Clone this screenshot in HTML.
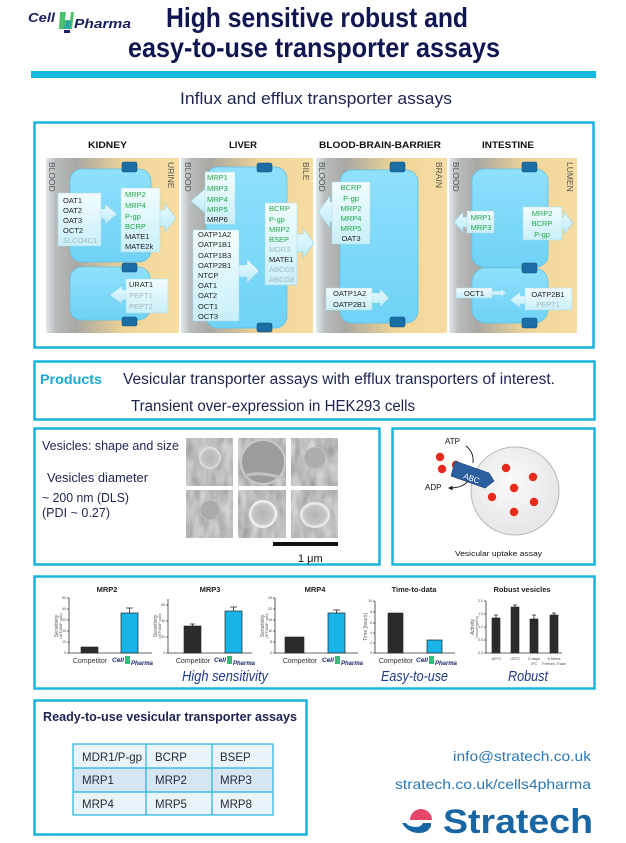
<!DOCTYPE html>
<html><head><meta charset="utf-8"><style>
html,body{margin:0;padding:0;background:#fff;width:626px;height:843px;overflow:hidden}
svg{display:block}
text{font-family:"Liberation Sans",Arial,sans-serif}
</style></head><body>
<svg width="626" height="843" viewBox="0 0 626 843" xmlns="http://www.w3.org/2000/svg">
<defs>
<linearGradient id="pg" x1="0" x2="1" y1="0" y2="0">
 <stop offset="0" stop-color="#e3e9ec"/>
 <stop offset="0.07" stop-color="#b9bcbd"/>
 <stop offset="0.22" stop-color="#a9a8a4"/>
 <stop offset="0.42" stop-color="#cdbf9c"/>
 <stop offset="0.6" stop-color="#efd597"/>
 <stop offset="1" stop-color="#f7dda3"/>
</linearGradient>
<linearGradient id="cg" x1="0" x2="0" y1="0" y2="1">
 <stop offset="0" stop-color="#8fe0fb"/>
 <stop offset="1" stop-color="#6fd2f6"/>
</linearGradient>
<linearGradient id="bg" x1="0" x2="0" y1="0" y2="1">
 <stop offset="0" stop-color="#f2fdff"/>
 <stop offset="1" stop-color="#c9eff9"/>
</linearGradient>
<linearGradient id="ag" x1="0" x2="0" y1="0" y2="1">
 <stop offset="0" stop-color="#eafbff"/>
 <stop offset="1" stop-color="#bdebf8"/>
</linearGradient>
<radialGradient id="vg" cx="0.45" cy="0.4" r="0.6">
 <stop offset="0" stop-color="#fafafa"/>
 <stop offset="1" stop-color="#e6e6e6"/>
</radialGradient>
<radialGradient id="sv" cx="0.5" cy="0.5" r="0.5">
 <stop offset="0" stop-color="#b4b4b4"/>
 <stop offset="0.75" stop-color="#c4c4c4"/>
 <stop offset="1" stop-color="#e8e8e8"/>
</radialGradient>
<filter id="sem" x="0" y="0" width="1" height="1">
 <feTurbulence type="fractalNoise" baseFrequency="0.12 0.05" numOctaves="2" seed="4"/>
 <feColorMatrix type="matrix" values="0.5 0 0 0 0.26  0.5 0 0 0 0.26  0.5 0 0 0 0.26  0 0 0 0 1"/>
</filter>
<marker id="ah" markerWidth="5" markerHeight="5" refX="4" refY="2.5" orient="auto">
 <path d="M0,0 L5,2.5 L0,5 Z" fill="#111"/>
</marker>
</defs>

<!-- ===== HEADER ===== -->
<text x="28" y="22" font-size="13" font-weight="bold" font-style="italic" fill="#1a2060" textLength="27" lengthAdjust="spacingAndGlyphs">Cell</text>
<polygon points="60,12 66,12 65,20 70,20 71,12 74,12 72,29 59,29" fill="#4cc06a"/>
<polygon points="66,21 71,21 70,29 64,29" fill="#2aa6a8"/>
<rect x="64" y="30" width="6" height="3" fill="#1a2060"/>
<text x="74" y="28" font-size="13" font-weight="bold" font-style="italic" fill="#1a2060" textLength="57" lengthAdjust="spacingAndGlyphs">Pharma</text>

<text x="166" y="27" font-size="28" font-weight="bold" fill="#0f1650" textLength="302" lengthAdjust="spacingAndGlyphs">High sensitive robust and</text>
<text x="128" y="57" font-size="28" font-weight="bold" fill="#0f1650" textLength="372" lengthAdjust="spacingAndGlyphs">easy-to-use transporter assays</text>
<rect x="31" y="71" width="565" height="7" fill="#13b8e0"/>
<text x="180" y="104" font-size="17" fill="#1b2550" textLength="272" lengthAdjust="spacingAndGlyphs">Influx and efflux transporter assays</text>

<!-- ===== ORGAN PANEL ===== -->
<rect x="34.5" y="122.5" width="559" height="225" fill="#fff" stroke="#17b5df" stroke-width="2.5"/>
<g font-weight="bold" font-size="9.5" fill="#111">
<text x="88" y="148" textLength="39" lengthAdjust="spacingAndGlyphs">KIDNEY</text>
<text x="229" y="148" textLength="28" lengthAdjust="spacingAndGlyphs">LIVER</text>
<text x="319" y="148" textLength="122" lengthAdjust="spacingAndGlyphs">BLOOD-BRAIN-BARRIER</text>
<text x="482" y="148" textLength="52" lengthAdjust="spacingAndGlyphs">INTESTINE</text>
</g>
<rect x="46" y="158" width="133" height="175" fill="url(#pg)"/>
<rect x="181" y="158" width="132" height="175" fill="url(#pg)"/>
<rect x="316" y="158" width="131" height="175" fill="url(#pg)"/>
<rect x="449" y="158" width="128" height="175" fill="url(#pg)"/>

<!-- vertical labels -->
<g font-size="8.5" fill="#555">
<text transform="translate(49,162) rotate(90)">BLOOD</text>
<text transform="translate(168,162) rotate(90)">URINE</text>
<text transform="translate(185,162) rotate(90)">BLOOD</text>
<text transform="translate(303,162) rotate(90)">BILE</text>
<text transform="translate(319,162) rotate(90)">BLOOD</text>
<text transform="translate(436,162) rotate(90)">BRAIN</text>
<text transform="translate(453,162) rotate(90)">BLOOD</text>
<text transform="translate(567,162) rotate(90)">LUMEN</text>
</g>

<!-- cells -->
<g fill="url(#cg)" stroke="#5cc3ec" stroke-width="0.8">
<rect x="70" y="169" width="81" height="93" rx="12"/>
<rect x="70" y="267" width="80" height="53" rx="12"/>
<rect x="206" y="167" width="81" height="161" rx="12"/>
<rect x="340" y="170" width="78" height="153" rx="12"/>
<rect x="472" y="169" width="76" height="98" rx="12"/>
<rect x="472" y="268" width="76" height="55" rx="14"/>
</g>
<!-- junctions -->
<g fill="#1b6ea5" stroke="#0f4f7d" stroke-width="0.6">
<rect x="122" y="162" width="15" height="10" rx="2"/>
<rect x="122" y="263" width="15" height="9" rx="2"/>
<rect x="122" y="317" width="15" height="9" rx="2"/>
<rect x="257" y="163" width="15" height="9" rx="2"/>
<rect x="257" y="323" width="15" height="9" rx="2"/>
<rect x="390" y="162" width="15" height="10" rx="2"/>
<rect x="390" y="317" width="15" height="10" rx="2"/>
<rect x="522" y="162" width="15" height="10" rx="2"/>
<rect x="522" y="263" width="15" height="10" rx="2"/>
<rect x="522" y="318" width="15" height="10" rx="2"/>
</g>

<!-- arrows -->
<g fill="url(#ag)" stroke="#96d6ea" stroke-width="0.6">
<polygon points="95,209 105,209 105,204 117,214 105,224 105,219 95,219"/>
<polygon points="155,210 165,210 165,204 176,218 165,232 165,226 155,226"/>
<polygon points="130,290 122,290 122,286 110,295 122,304 122,300 130,300"/>
<polygon points="210,194 205,194 205,189 191,201 205,213 205,208 210,208"/>
<polygon points="235,265 247,265 247,259 259,271 247,283 247,277 235,277"/>
<polygon points="293,234 303,234 303,228 314,243 303,258 303,252 293,252"/>
<polygon points="336,202 330,202 330,196 318,212 330,228 330,222 336,222"/>
<polygon points="368,293 380,293 380,289 389,298 380,307 380,303 368,303"/>
<polygon points="470,217 463,217 463,212 454,222 463,232 463,227 470,227"/>
<polygon points="558,217 564,217 564,212 573,223 564,234 564,229 558,229"/>
<polygon points="490,291 501,291 501,289 506,293 501,297 501,295 490,295"/>
<polygon points="528,296 520,296 520,292 510,300 520,308 520,304 528,304"/>
</g>

<!-- text boxes -->
<g fill="url(#bg)" stroke="#a9dbe9" stroke-width="0.5">
<rect x="58" y="193" width="43" height="53"/>
<rect x="121" y="188" width="39" height="64"/>
<rect x="126" y="279" width="42" height="34"/>
<rect x="205" y="172" width="30" height="52"/>
<rect x="193" y="230" width="46" height="91"/>
<rect x="265" y="203" width="32" height="82"/>
<rect x="332" y="182" width="38" height="62"/>
<rect x="326" y="288" width="46" height="22"/>
<rect x="467" y="211" width="27" height="22"/>
<rect x="523" y="207" width="39" height="33"/>
<rect x="456" y="288" width="36" height="10"/>
<rect x="525" y="288" width="47" height="22"/>
</g>

<g font-size="7.5">
<!-- kidney -->
<g fill="#222">
<text x="63" y="203">OAT1</text><text x="63" y="213">OAT2</text><text x="63" y="223">OAT3</text><text x="63" y="233">OCT2</text>
</g>
<text x="63" y="243" fill="#a3b9be">SLCO4C1</text>
<g fill="#22a845">
<text x="125" y="197">MRP2</text><text x="125" y="208">MRP4</text><text x="125" y="219">P-gp</text><text x="125" y="229">BCRP</text>
</g>
<text x="125" y="239" fill="#222">MATE1</text><text x="125" y="249" fill="#222">MATE2k</text>
<text x="129" y="287" fill="#222">URAT1</text>
<text x="129" y="298" fill="#a3b9be">PEPT1</text><text x="129" y="309" fill="#a3b9be">PEPT2</text>
<!-- liver -->
<g fill="#22a845">
<text x="207" y="180">MRP1</text><text x="207" y="191">MRP3</text><text x="207" y="202">MRP4</text><text x="207" y="212">MRP5</text>
</g>
<text x="207" y="222" fill="#222">MRP6</text>
<g fill="#222">
<text x="198" y="237">OATP1A2</text><text x="198" y="247">OATP1B1</text><text x="198" y="258">OATP1B3</text><text x="198" y="268">OATP2B1</text><text x="198" y="278">NTCP</text><text x="198" y="288">OAT1</text><text x="198" y="298">OAT2</text><text x="198" y="309">OCT1</text><text x="198" y="319">OCT3</text>
</g>
<g fill="#22a845">
<text x="269" y="211">BCRP</text><text x="269" y="222">P-gp</text><text x="269" y="232">MRP2</text><text x="269" y="242">BSEP</text>
</g>
<text x="269" y="252" fill="#a3b9be">MDR3</text>
<text x="269" y="262" fill="#222">MATE1</text>
<text x="269" y="272" fill="#a3b9be">ABCG5</text><text x="269" y="282" fill="#a3b9be">ABCG8</text>
<!-- BBB -->
<g fill="#22a845" text-anchor="middle">
<text x="351" y="190">BCRP</text><text x="351" y="201">P-gp</text><text x="351" y="211">MRP2</text><text x="351" y="221">MRP4</text><text x="351" y="231">MRP5</text>
</g>
<text x="351" y="241" fill="#222" text-anchor="middle">OAT3</text>
<text x="333" y="296" fill="#222">OATP1A2</text><text x="333" y="307" fill="#222">OATP2B1</text>
<!-- intestine -->
<g fill="#22a845" text-anchor="middle">
<text x="481" y="220">MRP1</text><text x="481" y="230">MRP3</text>
<text x="542" y="216">MRP2</text><text x="542" y="226">BCRP</text><text x="542" y="237">P-gp</text>
</g>
<text x="474" y="296" fill="#222" text-anchor="middle">OCT1</text>
<text x="548" y="297" fill="#222" text-anchor="middle">OATP2B1</text>
<text x="548" y="307" fill="#a3b9be" text-anchor="middle">PEPT1</text>
</g>

<!-- ===== PRODUCTS ===== -->
<rect x="34.5" y="361.5" width="560" height="58" fill="#fff" stroke="#17b5df" stroke-width="2.5"/>
<text x="40" y="384" font-size="14" font-weight="bold" fill="#17a9d8" textLength="62" lengthAdjust="spacingAndGlyphs">Products</text>
<text x="123" y="384" font-size="15.5" fill="#1b2550" textLength="432" lengthAdjust="spacingAndGlyphs">Vesicular transporter assays with efflux transporters of interest.</text>
<text x="131" y="411" font-size="15.5" fill="#1b2550" textLength="284" lengthAdjust="spacingAndGlyphs">Transient over-expression in HEK293 cells</text>

<!-- ===== VESICLES ===== -->
<rect x="34.5" y="428.5" width="345" height="136" fill="#fff" stroke="#17b5df" stroke-width="2.5"/>
<text x="42" y="450" font-size="13" fill="#1b2550" textLength="137" lengthAdjust="spacingAndGlyphs">Vesicles: shape and size</text>
<text x="47" y="482" font-size="13" fill="#1b2550" textLength="101" lengthAdjust="spacingAndGlyphs">Vesicles diameter</text>
<text x="42" y="502" font-size="13" fill="#1b2550" textLength="87" lengthAdjust="spacingAndGlyphs">~ 200 nm (DLS)</text>
<text x="42" y="517" font-size="13" fill="#1b2550" textLength="68" lengthAdjust="spacingAndGlyphs">(PDI ~ 0.27)</text>

<rect x="186" y="438" width="47" height="48" fill="#888" filter="url(#sem)"/>
<rect x="238" y="438" width="48" height="48" fill="#888" filter="url(#sem)"/>
<rect x="291" y="438" width="47" height="48" fill="#888" filter="url(#sem)"/>
<rect x="186" y="490" width="47" height="48" fill="#888" filter="url(#sem)"/>
<rect x="238" y="490" width="48" height="48" fill="#888" filter="url(#sem)"/>
<rect x="291" y="490" width="47" height="48" fill="#888" filter="url(#sem)"/>
<circle cx="210" cy="458" r="11" fill="url(#sv)"/>
<circle cx="263" cy="462" r="22" fill="#9d9d9d" stroke="#c9c9c9" stroke-width="2"/>
<path d="M244,476 Q262,470 286,480" stroke="#c2c2c2" stroke-width="3" fill="none"/>
<circle cx="315" cy="458" r="11" fill="#adadad" stroke="#c4c4c4" stroke-width="1"/>
<circle cx="210" cy="510" r="10" fill="#ababab" stroke="#c2c2c2" stroke-width="1"/>
<circle cx="263" cy="514" r="13" fill="url(#sv)" stroke="#efefef" stroke-width="2"/>
<ellipse cx="315" cy="515" rx="14" ry="12" fill="url(#sv)" stroke="#e9e9e9" stroke-width="2"/>
<rect x="273" y="542" width="65" height="4" fill="#111"/>
<text x="298" y="562" font-size="11" fill="#111">1 μm</text>

<!-- ===== UPTAKE ===== -->
<rect x="392.5" y="428.5" width="202" height="136" fill="#fff" stroke="#17b5df" stroke-width="2.5"/>
<circle cx="515" cy="491" r="44" fill="url(#vg)" stroke="#b8b8b8" stroke-width="1"/>
<g fill="#e8291c">
<circle cx="440" cy="457" r="4.2"/><circle cx="442" cy="469" r="4.2"/><circle cx="456" cy="465" r="4.2"/>
<circle cx="506" cy="468" r="4.2"/><circle cx="533" cy="477" r="4.2"/><circle cx="514" cy="488" r="4.2"/>
<circle cx="492" cy="497" r="4.2"/><circle cx="534" cy="502" r="4.2"/><circle cx="514" cy="512" r="4.2"/>
</g>
<polygon points="455,461 489,473 494,481 485,488 451,476" fill="#2c5fa0" stroke="#1d3f70" stroke-width="0.6"/>
<text transform="translate(463,478) rotate(20)" font-size="8" fill="#fff">ABC</text>
<text x="445" y="444" font-size="8" fill="#111">ATP</text>
<path d="M466,446 Q474,452 473,463" stroke="#111" stroke-width="0.9" fill="none"/>
<text x="425" y="490" font-size="8" fill="#111">ADP</text>
<path d="M468,481 Q463,488 449,488" stroke="#111" stroke-width="0.9" fill="none" marker-end="url(#ah)"/>
<text x="455" y="556" font-size="7.5" fill="#111" textLength="87" lengthAdjust="spacingAndGlyphs">Vesicular uptake assay</text>

<!-- ===== CHARTS ===== -->
<rect x="34.5" y="576.5" width="560" height="112" fill="#fff" stroke="#17b5df" stroke-width="2.5"/>
<g font-size="7.5" font-weight="bold" fill="#222" text-anchor="middle">
<text x="107" y="592">MRP2</text>
<text x="210" y="592">MRP3</text>
<text x="315" y="592">MRP4</text>
<text x="414" y="592">Time-to-data</text>
<text x="522" y="592">Robust vesicles</text>
</g>
<g stroke="#333" stroke-width="0.8" fill="none">
<path d="M69,598 V653 H152"/>
<path d="M168,599 V653 H252"/>
<path d="M275,598 V653 H358"/>
<path d="M375,601 V653 H455"/>
<path d="M486,601 V653 H562"/>
<path d="M67,598H69M67,609H69M67,620H69M67,631H69M67,642H69M67,653H69"/>
<path d="M166,605H168M166,621H168M166,637H168M166,653H168"/>
<path d="M273,598H275M273,609H275M273,620H275M273,631H275M273,642H275M273,653H275"/>
<path d="M373,601H375M373,612H375M373,623H375M373,633H375M373,643H375M373,653H375"/>
<path d="M484,601H486M484,614H486M484,627H486M484,640H486M484,653H486"/>
</g>
<g font-size="3.5" fill="#444" text-anchor="end">
<text x="66" y="599">50</text><text x="66" y="610">40</text><text x="66" y="621">30</text><text x="66" y="632">20</text><text x="66" y="643">10</text><text x="66" y="654">0</text>
<text x="165" y="606">60</text><text x="165" y="622">40</text><text x="165" y="638">20</text><text x="165" y="654">0</text>
<text x="272" y="599">25</text><text x="272" y="610">20</text><text x="272" y="621">15</text><text x="272" y="632">10</text><text x="272" y="643">5</text><text x="272" y="654">0</text>
<text x="372" y="602">10</text><text x="372" y="613">8</text><text x="372" y="624">6</text><text x="372" y="634">4</text><text x="372" y="644">2</text><text x="372" y="654">0</text>
<text x="483" y="602">2.0</text><text x="483" y="615">1.5</text><text x="483" y="628">1.0</text><text x="483" y="641">0.5</text><text x="483" y="654">0.0</text>
</g>
<g fill="#555" text-anchor="middle">
<text transform="translate(58,626) rotate(-90)" font-size="5">Sensitivity</text>
<text transform="translate(62,626) rotate(-90)" font-size="3.5">(ATP/AMP ratio)</text>
<text transform="translate(157,626) rotate(-90)" font-size="5">Sensitivity</text>
<text transform="translate(161,626) rotate(-90)" font-size="3.5">(ATP/AMP ratio)</text>
<text transform="translate(264,626) rotate(-90)" font-size="5">Sensitivity</text>
<text transform="translate(268,626) rotate(-90)" font-size="3.5">(ATP/AMP ratio)</text>
<text transform="translate(367,627) rotate(-90)" font-size="5">Time [hours]</text>
<text transform="translate(474,627) rotate(-90)" font-size="5">Activity</text>
<text transform="translate(478,627) rotate(-90)" font-size="3.5">(nmol/mg/min)</text>
</g>
<g fill="#2b2b2b" stroke="#222" stroke-width="0.6">
<rect x="81" y="647" width="17" height="6"/>
<rect x="184" y="626" width="17" height="27"/>
<rect x="285" y="637" width="19" height="16"/>
<rect x="388" y="613" width="15" height="40"/>
<rect x="492" y="618" width="8" height="35"/>
<rect x="511" y="607" width="8" height="46"/>
<rect x="530" y="619" width="8" height="34"/>
<rect x="550" y="615" width="8" height="38"/>
</g>
<g fill="#19b4e8" stroke="#222" stroke-width="0.7">
<rect x="121" y="613" width="17" height="40"/>
<rect x="225" y="611" width="17" height="42"/>
<rect x="328" y="613" width="17" height="40"/>
<rect x="427" y="640" width="15" height="13"/>
</g>
<g stroke="#222" stroke-width="0.8" fill="none">
<path d="M129.5,613V608M126,608H133"/>
<path d="M233.5,611V607M230,607H237"/>
<path d="M192.5,626V624M190,624H195"/>
<path d="M336.5,613V610M333,610H340"/>
<path d="M496,618V615M494,615H498"/>
<path d="M515,607V605M513,605H517"/>
<path d="M534,619V615M532,615H536"/>
<path d="M554,615V613M552,613H556"/>
</g>
<g font-size="7" fill="#333" text-anchor="middle">
<text x="90" y="663">Competitor</text>
<text x="193" y="663">Competitor</text>
<text x="300" y="663">Competitor</text>
<text x="396" y="663">Competitor</text>
</g>
<g font-size="4" fill="#444" text-anchor="middle">
<text x="496" y="660">-80°C</text><text x="515" y="660">-20°C</text>
<text x="534" y="660">2 days</text><text x="534" y="665">4°C</text>
<text x="554" y="660">5 times</text><text x="554" y="665">Freeze-Thaw</text>
</g>
<g font-style="italic" font-weight="bold" fill="#1a2466">
<text x="112" y="662" font-size="6.5">Cell</text><rect x="125" y="656" width="5" height="8" fill="#3cb878"/><text x="131" y="665" font-size="6">Pharma</text>
<text x="214" y="662" font-size="6.5">Cell</text><rect x="227" y="656" width="5" height="8" fill="#3cb878"/><text x="233" y="665" font-size="6">Pharma</text>
<text x="322" y="662" font-size="6.5">Cell</text><rect x="335" y="656" width="5" height="8" fill="#3cb878"/><text x="341" y="665" font-size="6">Pharma</text>
<text x="416" y="662" font-size="6.5">Cell</text><rect x="429" y="656" width="5" height="8" fill="#3cb878"/><text x="435" y="665" font-size="6">Pharma</text>
</g>
<g font-size="14.5" font-style="italic" fill="#1f3a8a">
<text x="182" y="681" textLength="86" lengthAdjust="spacingAndGlyphs">High sensitivity</text>
<text x="381" y="681" textLength="67" lengthAdjust="spacingAndGlyphs">Easy-to-use</text>
<text x="508" y="681" textLength="40" lengthAdjust="spacingAndGlyphs">Robust</text>
</g>

<!-- ===== READY-TO-USE ===== -->
<rect x="34.5" y="700.5" width="272" height="134" fill="#fff" stroke="#17b5df" stroke-width="2.5"/>
<text x="43" y="721" font-size="13" font-weight="bold" fill="#1b2354" textLength="254" lengthAdjust="spacingAndGlyphs">Ready-to-use vesicular transporter assays</text>
<rect x="73" y="744" width="200" height="24" fill="#eaf3fa"/>
<rect x="73" y="768" width="200" height="24" fill="#d5e6f3"/>
<rect x="73" y="792" width="200" height="23" fill="#eaf3fa"/>
<g stroke="#1fb3dc" stroke-width="1.2" fill="none">
<rect x="73" y="744" width="200" height="71"/>
<path d="M146,744V815M212,744V815M73,768H273M73,792H273"/>
</g>
<g font-size="11.5" fill="#2a2a3a">
<text x="82" y="761">MDR1/P-gp</text><text x="155" y="761">BCRP</text><text x="220" y="761">BSEP</text>
<text x="82" y="784">MRP1</text><text x="155" y="784">MRP2</text><text x="220" y="784">MRP3</text>
<text x="82" y="808">MRP4</text><text x="155" y="808">MRP5</text><text x="220" y="808">MRP8</text>
</g>

<!-- ===== CONTACT ===== -->
<text x="453" y="761" font-size="14" fill="#2a78b6" textLength="138" lengthAdjust="spacingAndGlyphs">info@stratech.co.uk</text>
<text x="395" y="789" font-size="14" fill="#2a78b6" textLength="196" lengthAdjust="spacingAndGlyphs">stratech.co.uk/cells4pharma</text>
<path d="M410,820 A11,11 0 0 1 432,820 Z" fill="#e8456b"/>
<path d="M402,823 Q408,833 419,833 Q428,833 431,826 L431,823 L423,823 Q421,827 416,827 Q409,827 406,823 Z" fill="#1866a4"/>
<text x="443" y="833" font-size="34" font-weight="bold" fill="#1866a4" textLength="150" lengthAdjust="spacingAndGlyphs">Stratech</text>
</svg>
</body></html>
